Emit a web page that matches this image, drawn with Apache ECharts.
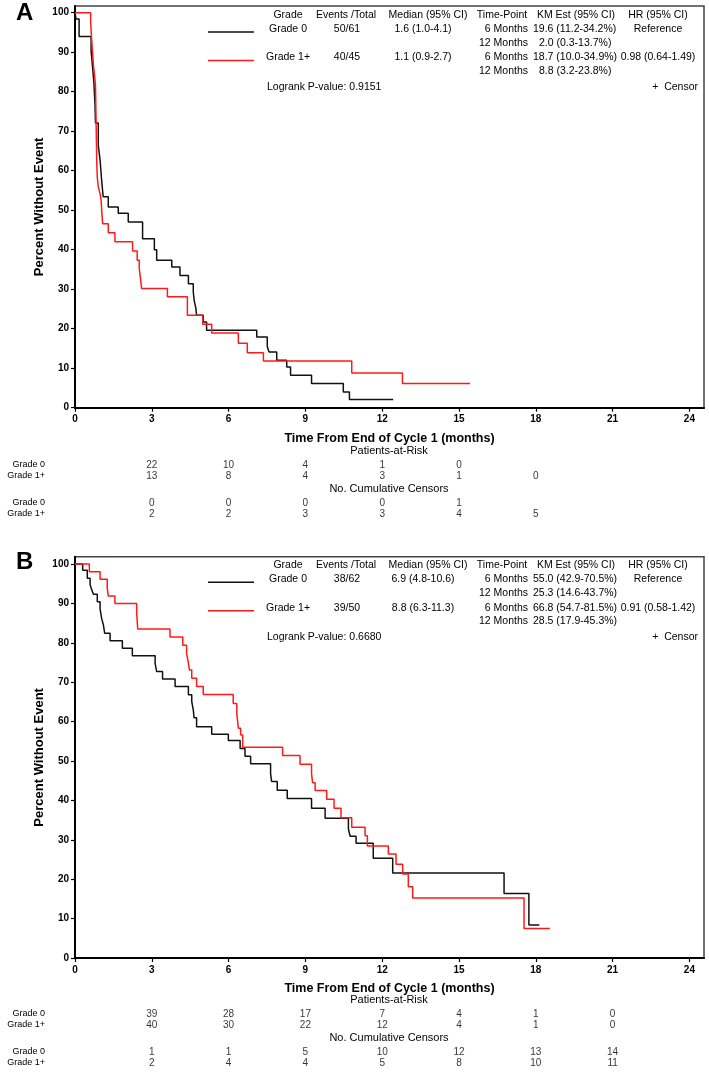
<!DOCTYPE html>
<html><head><meta charset="utf-8">
<script src="https://cdn.jsdelivr.net/npm/echarts@6/dist/echarts.min.js"></script>
<style>html,body{margin:0;padding:0;background:#fff}#c{width:709px;height:1074px}</style>
</head><body><div id="c"></div>
<script>
// ---------- DATA ----------
const xTicks = [0, 3, 6, 9, 12, 15, 18, 21, 24];
const yTicks = [0, 10, 20, 30, 40, 50, 60, 70, 80, 90, 100];
const groups = ['Grade 0', 'Grade 1+'];

// Panel A Kaplan-Meier steps (months, percent without event)
const aG0Time = [0, 0.04, 0.16, 0.63, 0.70, 0.74, 0.78, 0.80, 0.91, 0.98, 1.04, 1.10, 1.30, 1.69, 2.08, 2.64, 3.10, 3.19, 3.78, 4.10, 4.43, 4.62, 4.66, 4.72, 4.75, 5.01, 5.14, 7.10, 7.51, 7.58, 7.88, 8.27, 8.42, 9.24, 10.48, 10.72, 12.43];
const aG0Surv = [100, 98.4, 94.0, 90.2, 85.2, 82.0, 77.0, 72.1, 66.4, 62.7, 57.6, 53.4, 50.8, 49.2, 47.0, 42.8, 40.0, 37.3, 35.6, 33.5, 31.4, 29.3, 27.0, 25.2, 23.4, 21.7, 19.6, 17.9, 15.5, 14.1, 12.0, 10.3, 8.2, 6.1, 4.0, 2.1, 2.1];
const aG1Time = [0, 0.61, 0.65, 0.72, 0.76, 0.80, 0.85, 0.87, 0.91, 0.98, 1.02, 1.05, 1.08, 1.30, 1.56, 2.25, 2.43, 2.51, 2.56, 2.60, 3.61, 4.39, 4.99, 5.34, 6.38, 6.73, 7.36, 10.81, 12.79, 15.43];
const aG1Surv = [100, 97.8, 93.3, 86.7, 84.4, 81.6, 62.0, 58.4, 55.9, 54.2, 52.5, 49.2, 46.6, 44.3, 42.0, 39.7, 37.3, 35.2, 32.6, 30.2, 28.1, 23.4, 21.1, 18.9, 16.3, 13.9, 11.8, 8.8, 6.1, 6.1];

// Panel B Kaplan-Meier steps
const bG0Time = [0, 0.30, 0.48, 0.59, 0.65, 0.72, 0.87, 0.98, 1.04, 1.11, 1.16, 1.37, 1.85, 2.24, 3.13, 3.19, 3.42, 3.91, 4.43, 4.56, 4.62, 4.65, 4.75, 5.34, 5.99, 6.45, 6.64, 6.86, 7.64, 7.68, 7.90, 8.29, 9.24, 9.77, 10.68, 10.75, 10.98, 11.65, 12.41, 16.76, 17.73, 18.14];
const bG0Surv = [100, 98.4, 96.4, 94.8, 93.5, 92.3, 90.4, 88.6, 86.2, 84.5, 82.4, 80.5, 78.6, 76.7, 74.8, 72.7, 70.8, 68.9, 66.8, 65.1, 63.0, 61.0, 58.7, 56.8, 55.2, 53.2, 51.2, 49.3, 46.8, 44.8, 42.6, 40.5, 38.0, 35.5, 32.7, 30.9, 29.1, 25.3, 21.6, 16.4, 8.4, 8.4];
const bG1Time = [0, 0.56, 0.98, 1.26, 1.30, 1.56, 2.41, 2.45, 3.71, 4.21, 4.36, 4.42, 4.47, 4.56, 4.75, 5.01, 6.18, 6.32, 6.38, 6.47, 6.55, 8.11, 8.79, 9.24, 9.28, 9.38, 9.83, 10.12, 10.39, 10.81, 11.33, 11.42, 12.24, 12.54, 12.80, 13.02, 13.19, 17.54, 18.55];
const bG1Surv = [100, 98.0, 96.1, 93.8, 91.9, 90.0, 87.5, 83.5, 81.5, 79.4, 77.3, 75.2, 73.1, 71.0, 68.9, 66.9, 64.6, 62.1, 58.3, 56.6, 53.5, 51.4, 49.2, 46.8, 44.5, 42.5, 40.3, 38.0, 35.6, 33.2, 31.0, 28.4, 26.4, 23.8, 21.3, 18.1, 15.2, 7.5, 7.5];

// Risk tables
const riskTimes = [3, 6, 9, 12, 15, 18, 21];
const aRiskG0 = [22, 10, 4, 1, 0];
const aRiskG1 = [13, 8, 4, 3, 1, 0];
const aCensG0 = [0, 0, 0, 0, 1];
const aCensG1 = [2, 2, 3, 3, 4, 5];
const bRiskG0 = [39, 28, 17, 7, 4, 1, 0];
const bRiskG1 = [40, 30, 22, 12, 4, 1, 0];
const bCensG0 = [1, 1, 5, 10, 12, 13, 14];
const bCensG1 = [2, 4, 4, 5, 8, 10, 11];

// Summary tables
const tableHeaders = ['Grade', 'Events /Total', 'Median (95% CI)', 'Time-Point', 'KM Est (95% CI)', 'HR (95% CI)'];
const timePoints = ['6 Months', '12 Months'];
const aEvents = ['50/61', '40/45'];
const aMedian = ['1.6 (1.0-4.1)', '1.1 (0.9-2.7)'];
const aKM = ['19.6 (11.2-34.2%)', '2.0 (0.3-13.7%)', '18.7 (10.0-34.9%)', '8.8 (3.2-23.8%)'];
const aHR = ['Reference', '0.98 (0.64-1.49)'];
const aLogrank = 'Logrank P-value: 0.9151';
const bEvents = ['38/62', '39/50'];
const bMedian = ['6.9 (4.8-10.6)', '8.8 (6.3-11.3)'];
const bKM = ['55.0 (42.9-70.5%)', '25.3 (14.6-43.7%)', '66.8 (54.7-81.5%)', '28.5 (17.9-45.3%)'];
const bHR = ['Reference', '0.91 (0.58-1.42)'];
const bLogrank = 'Logrank P-value: 0.6680';

const xTitle = 'Time From End of Cycle 1 (months)';
const yTitle = 'Percent Without Event';

// ---------- LAYOUT ----------
const FONT = 'Liberation Sans, Arial, sans-serif';
const X_MAX = 24.57;
const COLORS = ['#111111', '#ff1a1a'];

const chart = echarts.init(document.getElementById('c'), null, {renderer: 'canvas'});

const plotTop = [6, 556.7];
const plotH = [401.7, 401.3];
const yMax = [101.7, 101.85];
const tableTops = [459.5, 497.5, 1008.5, 1046.5];

const grids = [], xAxes = [], yAxes = [], series = [];
for (let p = 0; p < 2; p++) {
  grids.push({left: 75, right: 5, top: plotTop[p], height: plotH[p], show: true, borderColor: '#444', borderWidth: 1.5, backgroundColor: 'transparent'});
  xAxes.push({
    gridIndex: p, type: 'value', min: 0, max: X_MAX,
    axisLine: {show: true, onZero: false, lineStyle: {color: '#000', width: 2}},
    axisTick: {show: true, length: 4, lineStyle: {color: '#000', width: 1.2}, customValues: xTicks},
    axisLabel: {color: '#000', fontSize: 10, fontFamily: FONT, fontWeight: 'bold', margin: 7, customValues: xTicks},
    splitLine: {show: false},
    name: xTitle, nameLocation: 'middle', nameGap: 24, nameMoveOverlap: false,
    nameTextStyle: {color: '#000', fontSize: 12.5, fontWeight: 'bold', fontFamily: FONT}
  });
  yAxes.push({
    gridIndex: p, type: 'value', min: 0, max: yMax[p],
    axisLine: {show: true, onZero: false, lineStyle: {color: '#000', width: 2}},
    axisTick: {show: true, length: 4, lineStyle: {color: '#000', width: 1.2}, customValues: yTicks},
    axisLabel: {color: '#000', fontSize: 10, fontFamily: FONT, fontWeight: 'bold', margin: 6, customValues: yTicks},
    splitLine: {show: false},
    name: yTitle, nameLocation: 'middle', nameGap: 29, nameRotate: 90, nameMoveOverlap: false,
    nameTextStyle: {color: '#000', fontSize: 13, fontWeight: 'bold', fontFamily: FONT}
  });
}
for (let k = 0; k < 4; k++) {
  const gi = 2 + k;
  grids.push({left: 75, right: 5, top: tableTops[k], height: 22});
  xAxes.push({gridIndex: gi, type: 'value', min: 0, max: X_MAX, show: false});
  yAxes.push({gridIndex: gi, type: 'category', data: groups, inverse: true,
    axisLine: {show: false}, axisTick: {show: false}, splitLine: {show: false},
    axisLabel: {color: '#000', fontSize: 9, fontFamily: FONT, margin: 30, interval: 0}});
}

function kmSeries(name, times, surv, p, color) {
  return {
    name, type: 'line', step: 'end', xAxisIndex: p, yAxisIndex: p,
    data: times.map((t, i) => [t, surv[i]]),
    showSymbol: false, symbol: 'none', lineStyle: {color, width: 1.5}, itemStyle: {color},
    silent: true, z: 3
  };
}
series.push(kmSeries('Grade 0', aG0Time, aG0Surv, 0, COLORS[0]));
series.push(kmSeries('Grade 1+', aG1Time, aG1Surv, 0, COLORS[1]));
series.push(kmSeries('Grade 0', bG0Time, bG0Surv, 1, COLORS[0]));
series.push(kmSeries('Grade 1+', bG1Time, bG1Surv, 1, COLORS[1]));

function tableSeries(gi, rowsVals) {
  const data = [];
  rowsVals.forEach((vals, r) => vals.forEach((v, i) => data.push([riskTimes[i], groups[r], v])));
  return {
    type: 'scatter', xAxisIndex: gi, yAxisIndex: gi, data, symbolSize: 1,
    itemStyle: {color: 'rgba(0,0,0,0)'}, silent: true,
    label: {show: true, position: 'inside', color: '#000', fontSize: 10, fontFamily: FONT, formatter: p => String(p.value[2])}
  };
}
series.push(tableSeries(2, [aRiskG0, aRiskG1]));
series.push(tableSeries(3, [aCensG0, aCensG1]));
series.push(tableSeries(4, [bRiskG0, bRiskG1]));
series.push(tableSeries(5, [bCensG0, bCensG1]));

// ---------- GRAPHIC TEXT (tables, headers, panel letters) ----------
const graphics = [];
function txt(text, x, y, align, opts) {
  graphics.push({type: 'text', silent: true, style: Object.assign({
    text, x, y, align: align || 'center', verticalAlign: 'middle',
    fontSize: 10.5, fontFamily: FONT, fill: '#000'}, opts || {})});
}
function line(x1, y1, x2, y2, color) {
  graphics.push({type: 'line', silent: true, shape: {x1, y1, x2, y2}, style: {stroke: color, lineWidth: 1.5}});
}
function summary(dy, events, median, km, hr, logrank) {
  const headX = [288, 346, 428, 502, 576, 658];
  tableHeaders.forEach((h, i) => txt(h, headX[i], 15 + dy));
  const rowY = [29, 43, 57.5, 71];
  for (let g = 0; g < 2; g++) {
    const r0 = rowY[g * 2], r1 = rowY[g * 2 + 1];
    line(208, r0 + 3 + dy, 254, r0 + 3 + dy, COLORS[g]);
    txt(groups[g], 288, r0 + dy);
    txt(events[g], 347, r0 + dy);
    txt(median[g], 423, r0 + dy);
    txt(timePoints[0], 528, r0 + dy, 'right');
    txt(timePoints[1], 528, r1 + dy, 'right');
    const k0 = km[g * 2], k1 = km[g * 2 + 1];
    txt(k0, k0.indexOf('.') === 1 ? 539 : 533, r0 + dy, 'left');
    txt(k1, k1.indexOf('.') === 1 ? 539 : 533, r1 + dy, 'left');
    txt(hr[g], 658, r0 + dy);
  }
  txt(logrank, 267, 87 + dy, 'left');
  txt('+  Censor', 698, 87 + dy, 'right');
}
summary(0, aEvents, aMedian, aKM, aHR, aLogrank);
summary(550.2, bEvents, bMedian, bKM, bHR, bLogrank);

txt('Patients-at-Risk', 389, 451, 'center', {fontSize: 11});
txt('No. Cumulative Censors', 389, 489, 'center', {fontSize: 11});
txt('Patients-at-Risk', 389, 1000, 'center', {fontSize: 11});
txt('No. Cumulative Censors', 389, 1038, 'center', {fontSize: 11});

txt('A', 16, 13.5, 'left', {fontSize: 24, fontWeight: 'bold'});
txt('B', 16, 562, 'left', {fontSize: 24, fontWeight: 'bold'});

chart.setOption({
  animation: false,
  backgroundColor: '#ffffff',
  grid: grids, xAxis: xAxes, yAxis: yAxes, series,
  graphic: graphics
});
</script>
</body></html>
